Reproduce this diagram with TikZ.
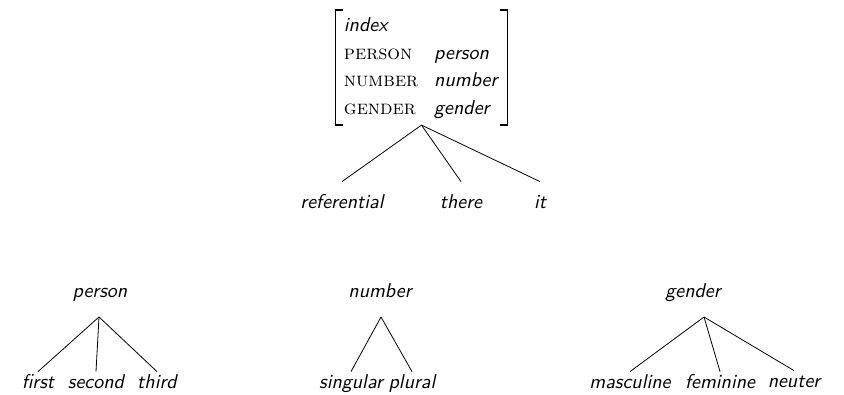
\documentclass[tikz,border=0pt]{standalone}
\usepackage{tikz}
\usetikzlibrary{positioning}

\newcommand{\val}[1]{\textsf{\textit{#1}}}

\begin{document}
\begin{tikzpicture}[
  x=0.5pt,y=-0.5pt,
  avm/.style={inner xsep=4pt,inner ysep=1pt},
  bracket/.style={line width=0.7pt},
  cat/.style={font=\sffamily\itshape,anchor=base,inner sep=0pt},
  topleaf/.style={font=\sffamily\itshape,anchor=base,text height=7pt,text depth=2pt,inner xsep=0pt,inner ysep=6pt},
  leaf/.style={font=\sffamily\itshape,anchor=base,text height=7pt,text depth=2pt,inner xsep=0pt,inner ysep=1pt},
  branch/.style={thin}
]
\useasboundingbox (0,0) rectangle (844,395);

% the index feature structure
\node[avm] (avm) at (421.5,67.5) {\renewcommand{\arraystretch}{1.15}%
  \begin{tabular}{@{}l@{\hspace{8pt}}l@{}}
  \val{index} & \\
  \textsc{person} & \val{person}\\
  \textsc{number} & \val{number}\\
  \textsc{gender} & \val{gender}
  \end{tabular}};
\draw[bracket] ([xshift=3.5pt]avm.north west) -- (avm.north west) -- (avm.south west) -- ([xshift=3.5pt]avm.south west);
\draw[bracket] ([xshift=-3.5pt]avm.north east) -- (avm.north east) -- (avm.south east) -- ([xshift=-3.5pt]avm.south east);

\node[topleaf] (referential) at (342,208) {referential};
\node[topleaf] (there) at (461,208) {there};
\node[topleaf] (it) at (540,208) {it};
\draw[branch] (avm.south) -- (referential.north);
\draw[branch] (avm.south) -- (there.north);
\draw[branch] (avm.south) -- (it.north);

% person
\node[cat] (person) at (100,297) {person};
\coordinate (personroot) at (99,317);
\node[leaf] (first) at (38,388) {first};
\node[leaf] (second) at (96,388) {second};
\node[leaf] (third) at (157,388) {third};
\draw[branch] (personroot) -- (first.north);
\draw[branch] (personroot) -- (second.north);
\draw[branch] (personroot) -- (third.north);

% number
\node[cat] (number) at (380,297) {number};
\coordinate (numberroot) at (381,317);
\node[leaf] (singular) at (351,388) {singular};
\node[leaf] (plural) at (412,388) {plural};
\draw[branch] (numberroot) -- (singular.north);
\draw[branch] (numberroot) -- (plural.north);

% gender
\node[cat] (gender) at (693,297) {gender};
\coordinate (genderroot) at (704,317);
\node[leaf] (masculine) at (630,388) {masculine};
\node[leaf] (feminine) at (720,388) {feminine};
\node[leaf] (neuter) at (794,387) {neuter};
\draw[branch] (genderroot) -- (masculine.north);
\draw[branch] (genderroot) -- (feminine.north);
\draw[branch] (genderroot) -- (neuter.north);
\end{tikzpicture}
\end{document}
